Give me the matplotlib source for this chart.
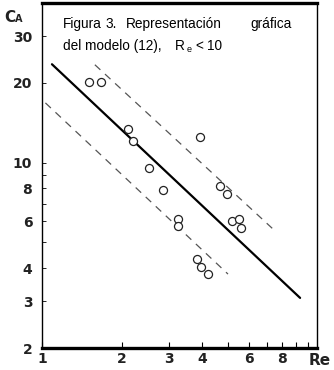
import numpy as np
import matplotlib
matplotlib.use("Agg")
import matplotlib.pyplot as plt

# data
re_pts = [1.50, 1.67, 2.11, 2.20, 2.53, 2.85, 3.25, 3.25, 3.93, 4.67, 4.96, 5.18, 5.50, 5.60, 3.83, 3.96, 4.21]
ca_pts = [20.2, 20.2, 13.4, 12.1, 9.55, 7.9, 6.14, 5.77, 12.5, 8.17, 7.62, 6.03, 6.14, 5.67, 4.33, 4.04, 3.80]

# model line and its two bands (end points)
model_re = [1.09, 9.33]
model_ca = [23.5, 3.09]
upper_re = [1.58, 7.38]
upper_ca = [23.4, 5.62]
lower_re = [1.03, 5.0]
lower_ca = [16.8, 3.8]

xticks = [1, 2, 3, 4, 5, 6, 7, 8, 9, 10]
xlabels = ["1", "2", "3", "4", "", "6", "", "8", "", ""]
yticks = [2, 3, 4, 5, 6, 7, 8, 9, 10, 20, 30]
ylabels = ["2", "3", "4", "", "6", "", "8", "", "10", "20", "30"]

W, H = 334, 370

def px(x, y):
    # pixel position -> figure fraction
    return x / W, 1 - y / H

fig = plt.figure(figsize=(W / 100, H / 100), dpi=100)
ax = fig.add_axes([42 / W, 1 - 348 / H, (317 - 42) / W, (348 - 3) / H])
ax.set_xscale("log")
ax.set_yscale("log")
ax.set_xlim(1, 10.8)
ax.set_ylim(2, 40)

ax.plot(model_re, model_ca, color="black", lw=1.6, solid_capstyle="round")
ax.plot(upper_re, upper_ca, color="#555555", lw=0.9, dashes=(6, 5))
ax.plot(lower_re, lower_ca, color="#555555", lw=0.9, dashes=(6, 5))
ax.plot(re_pts, ca_pts, "o", mfc="white", mec="#222222", mew=0.9, ms=5.8, ls="none")

ax.xaxis.set_major_locator(plt.FixedLocator(xticks))
ax.xaxis.set_minor_locator(plt.NullLocator())
ax.set_xticklabels(xlabels)
ax.yaxis.set_major_locator(plt.FixedLocator(yticks))
ax.yaxis.set_minor_locator(plt.NullLocator())
ax.set_yticklabels(ylabels)

ax.tick_params(axis="x", direction="in", length=4, width=0.8, pad=3, labelsize=10)
ax.tick_params(axis="y", direction="in", length=3, width=0.6, pad=7, labelsize=10)
for lab in ax.get_xticklabels() + ax.get_yticklabels():
    lab.set_fontweight("bold")
    lab.set_color("#222222")

ax.spines["top"].set_linewidth(2.4)
ax.spines["bottom"].set_linewidth(2.4)
ax.spines["left"].set_linewidth(1.0)
ax.spines["right"].set_linewidth(1.0)

# axis names
fig.text(*px(4, 22), "C", fontsize=11, fontweight="bold", color="#222222", va="baseline")
fig.text(*px(15, 22), "A", fontsize=7, fontweight="bold", color="#222222", va="baseline")
fig.text(*px(309, 365), "Re", fontsize=11, fontweight="bold", color="#222222", va="baseline")

# caption (justified by hand)
cap = dict(fontsize=9.8, family="Liberation Sans", va="baseline", color="black")
fig.text(*px(63, 28), "Figura", **cap)
fig.text(*px(106, 28), "3.", **cap)
fig.text(*px(126, 28), "Representación", **cap)
fig.text(*px(250, 28), "gráfica", **cap)
fig.text(*px(63, 50), "del modelo (12),", **cap)
fig.text(*px(175, 50), "R", **cap)
fig.text(*px(186.5, 52), "e", fontsize=6.5, family="Liberation Sans", va="baseline")
fig.text(*px(195, 50), "<", **cap)
fig.text(*px(207, 50), "10", **cap)

fig.savefig("out.png", dpi=100)
